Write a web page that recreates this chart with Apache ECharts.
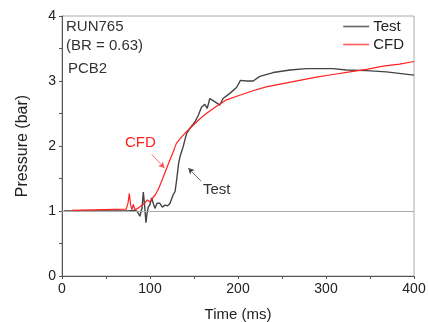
<!DOCTYPE html>
<html>
<head>
<meta charset="utf-8">
<script src="https://cdn.jsdelivr.net/npm/echarts@6/dist/echarts.min.js"></script>
<style>html,body{margin:0;padding:0;background:#fff}#c{width:428px;height:322px}</style>
</head>
<body>
<div id="c"></div>
<script>
const testTime = [2, 75, 81, 85, 88.5, 91, 92.4, 93.8, 95.4, 96.5, 98, 100, 101.8, 105.6, 108, 111, 114, 117, 120, 122.5, 126, 128.5, 130, 132.6, 134, 137.7, 141.5, 145.3, 151, 154.8, 158.6, 162.3, 165, 168, 174, 179.4, 183, 190.7, 198.3, 202.8, 209.6, 217.2, 224.8, 240, 259, 277.8, 308, 323, 346, 368.6, 400];
const testP    = [1.0, 1.0, 1.01, 1.0, 0.92, 1.05, 1.29, 1.1, 0.82, 0.95, 1.06, 1.1, 1.2, 1.04, 1.12, 1.12, 1.06, 1.09, 1.08, 1.11, 1.24, 1.3, 1.45, 1.74, 1.83, 1.99, 2.19, 2.27, 2.37, 2.47, 2.6, 2.64, 2.58, 2.73, 2.68, 2.63, 2.73, 2.81, 2.9, 3.01, 3.0, 3.0, 3.07, 3.13, 3.17, 3.19, 3.19, 3.17, 3.16, 3.14, 3.09];
const cfdTime = [11, 73, 75, 76.5, 78, 79.5, 81, 83, 86, 90, 94, 97, 100, 103, 106, 110, 115, 120.7, 126.4, 130, 135.9, 141.5, 149, 156.7, 164, 175.6, 187, 202, 217, 232, 251, 270, 289, 308, 327, 346, 365, 383.6, 400];
const cfdP    = [1.01, 1.03, 1.12, 1.27, 1.09, 1.02, 1.1, 1.02, 1.04, 1.08, 1.12, 1.17, 1.14, 1.2, 1.25, 1.35, 1.52, 1.72, 1.91, 2.04, 2.14, 2.22, 2.32, 2.42, 2.5, 2.61, 2.71, 2.78, 2.85, 2.91, 2.96, 3.01, 3.06, 3.1, 3.14, 3.18, 3.23, 3.26, 3.3];
const xTicks = [0, 100, 200, 300, 400];
const yTicks = [0, 1, 2, 3, 4];
const infoLines = ['RUN765', '(BR = 0.63)', 'PCB2'];
const seriesNames = ['Test', 'CFD'];

const zip = (a, b) => a.map((v, i) => [v, b[i]]);
const chart = echarts.init(document.getElementById('c'), null, {renderer: 'canvas'});
const font = 'Liberation Sans, Arial, sans-serif';
const axisCol = '#555';
const lineIcon = 'path://M0,0L26,0L26,1.6L0,1.6Z';
chart.setOption({
  animation: false,
  grid: {left: 62, right: 14, top: 16, bottom: 46, show: true, borderColor: '#aaa', borderWidth: 1,
         containLabel: false, outerBoundsMode: 'none'},
  legend: {
    orient: 'vertical', right: 19, top: 14, itemWidth: 26, itemHeight: 2, itemGap: 3,
    data: [
      {name: seriesNames[0], icon: lineIcon, itemStyle: {color: '#666'}},
      {name: seriesNames[1], icon: lineIcon, itemStyle: {color: '#ff5a5a'}}
    ],
    textStyle: {fontFamily: font, fontSize: 15, color: '#222', padding: [0, 0, 0, -1]}
  },
  xAxis: {
    type: 'value', min: 0, max: 400, interval: 100,
    name: 'Time (ms)', nameLocation: 'middle', nameGap: 31,
    nameTextStyle: {fontFamily: font, fontSize: 15, color: '#222'},
    axisLine: {show: true, lineStyle: {color: axisCol, width: 1}},
    axisTick: {show: true, length: 3, lineStyle: {color: axisCol}},
    minorTick: {show: true, splitNumber: 2, length: 3, lineStyle: {color: axisCol}},
    splitLine: {show: false},
    axisLabel: {fontFamily: font, fontSize: 14, color: '#222', margin: 6,
      formatter: v => xTicks.includes(v) ? String(v) : ''}
  },
  yAxis: {
    type: 'value', min: 0, max: 4, interval: 1,
    name: 'Pressure (bar)', nameLocation: 'middle', nameGap: 31, nameRotate: 90,
    nameTextStyle: {fontFamily: font, fontSize: 16, color: '#222'},
    axisLine: {show: true, lineStyle: {color: axisCol, width: 1}},
    axisTick: {show: true, length: 3, lineStyle: {color: axisCol}},
    minorTick: {show: true, splitNumber: 2, length: 3, lineStyle: {color: axisCol}},
    splitLine: {show: false},
    axisLabel: {fontFamily: font, fontSize: 14, color: '#222', margin: 6,
      formatter: v => yTicks.includes(v) ? String(v) : ''}
  },
  series: [
    {
      name: seriesNames[0], type: 'line', data: zip(testTime, testP), symbol: 'none',
      lineStyle: {color: '#444', width: 1.4}, itemStyle: {color: '#444'}, z: 3,
      markLine: {
        silent: true, symbol: 'none', label: {show: false},
        lineStyle: {color: '#aaa', width: 1, type: 'solid'},
        data: [{yAxis: 1}]
      }
    },
    {
      name: seriesNames[1], type: 'line', data: zip(cfdTime, cfdP), symbol: 'none',
      lineStyle: {color: '#ff2020', width: 1.2}, itemStyle: {color: '#ff2020'}, z: 4,
      markLine: {
        silent: true, symbol: ['none', 'arrow'], symbolSize: [5, 6], label: {show: false},
        data: [
          [{coord: [102, 1.87], lineStyle: {color: '#ff5050', width: 0.8, type: 'solid'}}, {coord: [116.5, 1.66]}],
          [{coord: [158, 1.46], lineStyle: {color: '#444', width: 0.8, type: 'solid'}}, {coord: [143.5, 1.66]}]
        ]
      }
    }
  ],
  graphic: [
    {type: 'text', left: 66, top: 19, style: {text: infoLines[0], font: '15px ' + font, fill: '#333'}},
    {type: 'text', left: 66, top: 38, style: {text: infoLines[1], font: '15px ' + font, fill: '#333'}},
    {type: 'text', left: 68, top: 61, style: {text: infoLines[2], font: '15px ' + font, fill: '#333'}},
    {type: 'text', left: 125, top: 135, style: {text: 'CFD', font: '15px ' + font, fill: '#ff2020'}},
    {type: 'text', left: 203, top: 182, style: {text: 'Test', font: '15px ' + font, fill: '#333'}}
  ]
});
</script>
</body>
</html>
